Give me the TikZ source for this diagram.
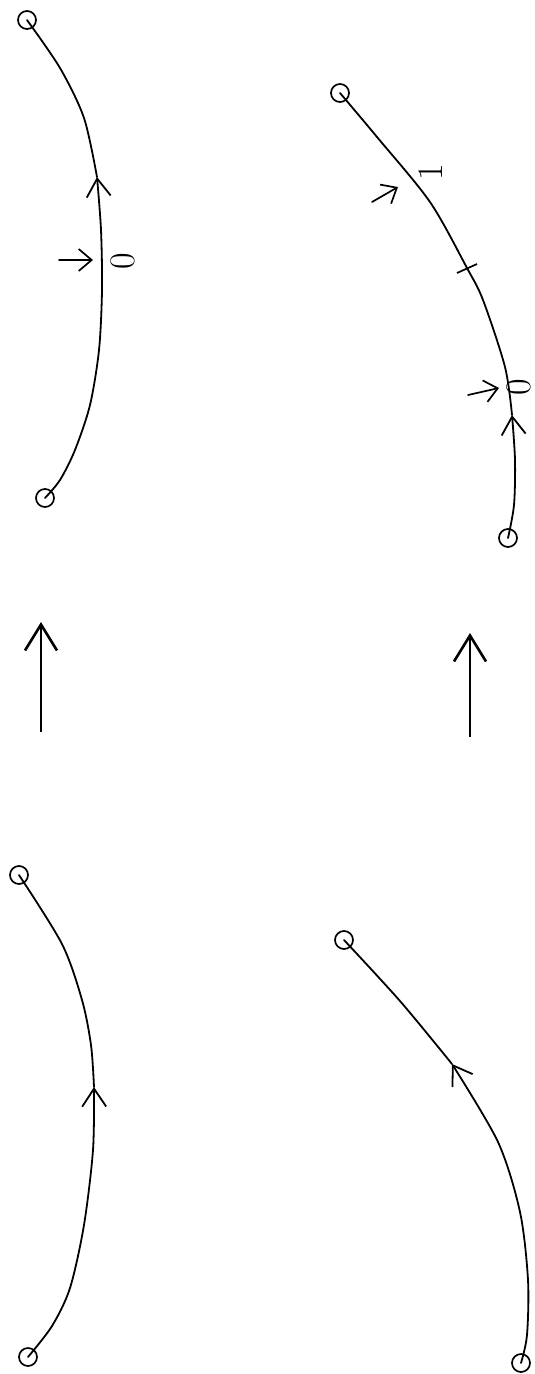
\documentclass[tikz,border=0pt]{standalone}
\usetikzlibrary{arrows.meta}
\begin{document}
\begin{tikzpicture}[x=1pt,y=-1pt,
  curve/.style={line width=1.8pt,line cap=round,line join=round},
  endpt/.style={circle,draw,line width=1.7pt,minimum size=18pt,inner sep=0pt},
  midtip/.style={-{Straight Barb[length=18pt,width=24pt]}},
  bigarrow/.style={line width=2.6pt,-{Straight Barb[length=26pt,width=32pt]}},
  lblarrow/.style={line width=1.7pt,line cap=round,-{Straight Barb[length=13pt,width=22pt]}},
  tickmark/.style={line width=1.7pt},
  lbl/.style={rotate=90,font=\fontsize{36}{42}\selectfont,inner sep=0pt}]
\useasboundingbox (0,0) rectangle (535,1374);

% ---------- top-left curve ----------
\node[endpt] (a1) at (27,20) {};
\node[endpt] (a2) at (45,498) {};
\coordinate (aA) at (97,177);
\draw[curve,midtip] plot[smooth] coordinates {(a2.center) (60,480) (75,450) (90,405) (99,350) (102,290) (101,230) (aA)};
\draw[curve] plot[smooth] coordinates {(aA) (84,118) (60,68) (a1.center)};
\coordinate (a0s) at (59,260);
\coordinate (a0t) at (93,260);
\draw[lblarrow] (a0s) -- (a0t);
\node[lbl] (a0) at (123,261) {0};

% ---------- big arrows ----------
\coordinate (L1s) at (41,732);
\coordinate (L1e) at (41,622);
\draw[bigarrow] (L1s) -- (L1e);
\coordinate (R1s) at (470,737);
\coordinate (R1e) at (470,633);
\draw[bigarrow] (R1s) -- (R1e);

% ---------- top-right curve ----------
\node[endpt] (b1) at (340,93) {};
\node[endpt] (b2) at (508,538) {};
\coordinate (bA) at (512,415);
\draw[curve,midtip] plot[smooth] coordinates {(b2.center) (514,505) (515,460) (bA)};
\draw[curve] plot[smooth] coordinates {(bA) (505,367) (483,300) (467,268) (430,202) (377,137) (b1.center)};
\coordinate (bt1) at (457,273);
\coordinate (bt2) at (477,264);
\draw[tickmark] (bt1) -- (bt2);
\coordinate (b1s) at (372,202);
\coordinate (b1t) at (398,187);
\draw[lblarrow] (b1s) -- (b1t);
\node[lbl] (b1l) at (431,172) {1};
\coordinate (b0s) at (468,395);
\coordinate (b0t) at (499,388);
\draw[lblarrow] (b0s) -- (b0t);
\node[lbl] (b0l) at (519,387) {0};

% ---------- bottom-left curve ----------
\node[endpt] (c1) at (19,875) {};
\node[endpt] (c2) at (28,1357) {};
\coordinate (cA) at (94,1087);
\draw[curve,midtip] plot[smooth] coordinates {(c2.center) (52,1326) (70,1288) (84,1225) (93,1150) (cA)};
\draw[curve] plot[smooth] coordinates {(cA) (91,1045) (82,1000) (62,944) (c1.center)};

% ---------- bottom-right curve ----------
\node[endpt] (d1) at (344,940) {};
\node[endpt] (d2) at (521,1363) {};
\coordinate (dA) at (452,1064);
\draw[curve,midtip] plot[smooth] coordinates {(d2.center) (527,1335) (528,1280) (520,1212) (498,1142) (dA)};
\draw[curve] plot[smooth] coordinates {(dA) (400,1001) (d1.center)};
\end{tikzpicture}
\end{document}
